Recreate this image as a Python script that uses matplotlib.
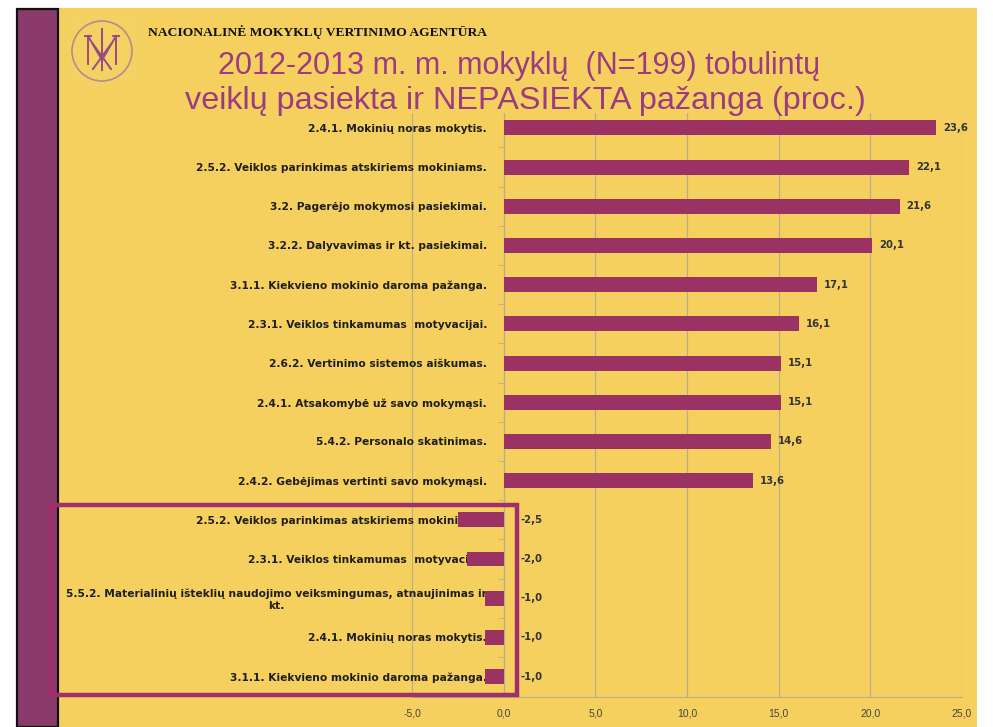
#!/usr/bin/env python3
"""Reproduce the NMVA 2012-2013 improved school activities bar chart."""

import matplotlib
matplotlib.use('Agg')
import matplotlib.pyplot as plt
from matplotlib.patches import Rectangle, Ellipse
from matplotlib.lines import Line2D

categories = [
    '2.4.1. Mokinių noras mokytis.',
    '2.5.2. Veiklos parinkimas atskiriems mokiniams.',
    '3.2. Pagerėjo mokymosi pasiekimai.',
    '3.2.2. Dalyvavimas ir kt. pasiekimai.',
    '3.1.1. Kiekvieno mokinio daroma pažanga.',
    '2.3.1. Veiklos tinkamumas  motyvacijai.',
    '2.6.2. Vertinimo sistemos aiškumas.',
    '2.4.1. Atsakomybė už savo mokymąsi.',
    '5.4.2. Personalo skatinimas.',
    '2.4.2. Gebėjimas vertinti savo mokymąsi.',
    '2.5.2. Veiklos parinkimas atskiriems mokiniams.',
    '2.3.1. Veiklos tinkamumas  motyvacijai.',
    '5.5.2. Materialinių išteklių naudojimo veiksmingumas, atnaujinimas ir\nkt.',
    '2.4.1. Mokinių noras mokytis.',
    '3.1.1. Kiekvieno mokinio daroma pažanga.',
]
values = [23.6, 22.1, 21.6, 20.1, 17.1, 16.1, 15.1, 15.1, 14.6, 13.6,
          -2.5, -2.0, -1.0, -1.0, -1.0]
x_ticks = [-5, 0, 5, 10, 15, 20, 25]

YELLOW = '#F6D05E'
BAR = '#9A3263'
TITLE = '#9B3C82'
STRIP = '#8A3A6B'
BOX = '#A0306A'
TXT = '#1E1E1E'

W, H = 993, 727
fig = plt.figure(figsize=(W / 100, H / 100), dpi=100)
fig.patch.set_facecolor('white')


def fx(px):
    return px / W


def fy(py):
    return 1 - py / H


# background panels (behind the axes)
fig.patches.append(Rectangle((fx(58), 0), fx(977 - 58), fy(8), transform=fig.transFigure,
                             facecolor=YELLOW, edgecolor='none', zorder=-3))
fig.patches.append(Rectangle((fx(17), 0), fx(41), fy(9), transform=fig.transFigure,
                             facecolor=STRIP, edgecolor='#111111', linewidth=1.6, zorder=-2))

# logo
fig.patches.append(Rectangle((fx(66), fy(86)), fx(74), 70 / H, transform=fig.transFigure,
                             facecolor='#F4D163', edgecolor='none', zorder=-1))
fig.patches.append(Ellipse((fx(102), fy(51)), fx(60), 60 / H, transform=fig.transFigure,
                           facecolor='none', edgecolor='#B98A8C', linewidth=1.2, zorder=2))
logo_lines = [
    ((88, 36), (88, 64)), ((116, 36), (116, 64)),
    ((88, 36), (102, 60)), ((116, 36), (102, 60)),
    ((102, 29), (102, 70)),
    ((93, 44), (111, 69)), ((111, 44), (93, 69)),
    ((85, 36), (91, 36)), ((113, 36), (119, 36)),
]
for (x0, y0), (x1, y1) in logo_lines:
    fig.lines.append(Line2D([fx(x0), fx(x1)], [fy(y0), fy(y1)], transform=fig.transFigure,
                            color='#9A4A82', linewidth=1.4, zorder=3))

fig.text(fx(148), fy(32), 'NACIONALINĖ MOKYKLŲ VERTINIMO AGENTŪRA', family='Liberation Serif',
         fontsize=9.7, fontweight='bold', color='#111111', va='center', ha='left')
fig.text(fx(519), fy(66), '2012-2013 m. m. mokyklų  (N=199) tobulintų', family='Liberation Sans',
         fontsize=22, color=TITLE, ha='center', va='center')
fig.text(fx(525), fy(101), 'veiklų pasiekta ir NEPASIEKTA pažanga (proc.)', family='Liberation Sans',
         fontsize=23.3, color=TITLE, ha='center', va='center')

ax = fig.add_axes([fx(412), fy(697), fx(962 - 412), (697 - 113) / H])
ax.set_facecolor('none')

pos = list(range(len(categories)))
ax.barh(pos, values, height=0.38, color=BAR, zorder=3)
ax.set_xlim(-5, 25)
ax.set_ylim(14.52, -0.38)

ax.set_xticks(x_ticks)
ax.set_xticklabels([f'{t:.1f}'.replace('.', ',') for t in x_ticks],
                   family='Liberation Sans', fontsize=7.5, color='#444444')
ax.tick_params(axis='x', length=0, pad=8)
ax.grid(axis='x', color='#B8AE8A', linewidth=0.9, zorder=1)

# category axis crosses at zero
for side in ('top', 'right'):
    ax.spines[side].set_visible(False)
ax.spines['left'].set_position(('data', 0))
ax.spines['left'].set_color('#B8AE8A')
ax.spines['bottom'].set_color('#B8AE8A')
ax.set_yticks(pos)
ax.set_yticklabels(categories, family='DejaVu Sans', fontsize=7.7, fontweight='bold', color=TXT)
ax.set_yticks([p + 0.5 for p in pos[:-1]], minor=True)
ax.tick_params(axis='y', which='major', length=0, pad=12)
ax.tick_params(axis='y', which='minor', length=4, color='#B8AE8A')
for lbl in ax.get_yticklabels():
    lbl.set_multialignment('center')
    lbl.set_zorder(4)

for p, v in zip(pos, values):
    ax.annotate(f'{v:.1f}'.replace('.', ','), (max(v, 0), p), xytext=(5 if v > 0 else 12, 0),
                textcoords='offset points', va='center', ha='left',
                family='DejaVu Sans', fontsize=7.3, fontweight='bold', color='#333333')

# highlight box around the not achieved items
ax.add_patch(Rectangle((-24.7, 9.62), 25.45, 4.84, facecolor='none', edgecolor=BOX,
                       linewidth=3.2, clip_on=False, zorder=5))

fig.savefig('out.png', dpi=100, facecolor=fig.get_facecolor())
